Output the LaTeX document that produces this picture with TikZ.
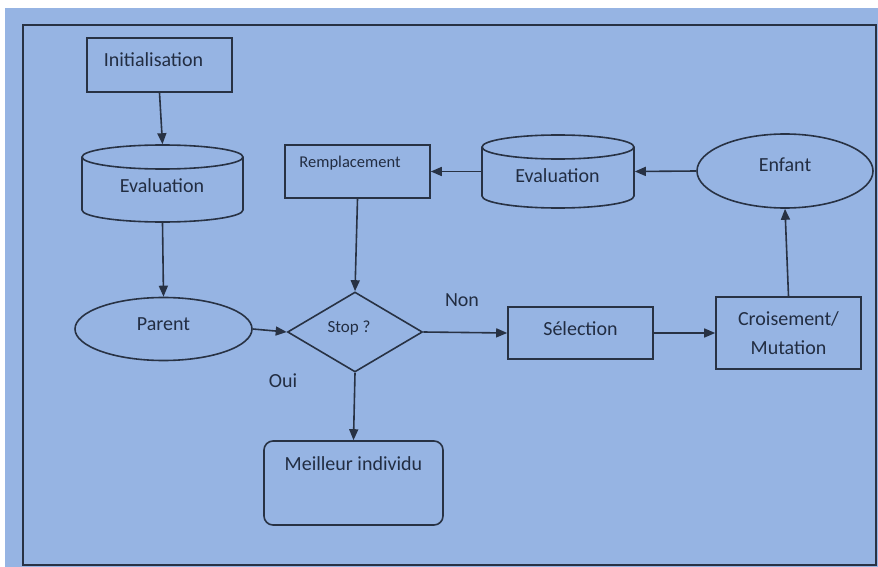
\documentclass[tikz,border=0pt]{standalone}
\usepackage{fontspec}
\setmainfont{Carlito}
\usetikzlibrary{arrows.meta,shapes.geometric}
\definecolor{sheet}{HTML}{96B4E3}
\definecolor{ink}{HTML}{283244}
\definecolor{txt}{HTML}{222D42}
\begin{document}
\begin{tikzpicture}[x=1pt,y=-1pt,line width=1.6pt,
  box/.style={draw=ink,rectangle,inner sep=0pt},
  oval/.style={draw=ink,ellipse,inner sep=0pt},
  rhomb/.style={draw=ink,diamond,inner sep=0pt},
  drum/.style={rectangle,inner sep=0pt},
  lbl/.style={text=txt,font=\fontsize{20}{24}\selectfont,inner sep=0pt},
  small/.style={lbl,font=\fontsize{16.5}{20}\selectfont},
  arr/.style={draw=ink,-{Triangle[length=11pt,width=9pt]}}]
  % page and frame
  \useasboundingbox (0,0) rectangle (878,567);
  \fill[white] (0,0) rectangle (878,567);
  \fill[sheet] (5,8) rectangle (878,567);
  \draw[ink,line width=1.4pt] (23,25) rectangle (876,565);

  % start
  \node[box,minimum width=145pt,minimum height=54pt,
        label={[lbl,xshift=-6pt,yshift=5pt]center:Initialisation}] (init) at (159.5,65) {};

  % first evaluation (cylinder)
  \node[drum,minimum width=161pt,minimum height=77pt] (ev1) at (162.5,183.5) {};
  \draw[ink] (82,157) -- (82,210) arc[start angle=180,end angle=360,x radius=80.5pt,y radius=12pt] -- (243,157);
  \draw[ink] (162.5,157) ellipse[x radius=80.5pt,y radius=12pt];
  \node[lbl] (ev1t) at (162,186) {Evaluation};

  % parent population
  \node[oval,minimum width=177pt,minimum height=63pt,
        label={[lbl,yshift=5pt]center:Parent}] (par) at (163.5,329) {};

  % stop test
  \node[rhomb,minimum width=135pt,minimum height=80pt,
        label={[lbl,font=\fontsize{17}{20}\selectfont,xshift=-6pt,yshift=4pt]center:Stop ?}] (stop) at (355,332) {};

  % replacement
  \node[box,minimum width=145pt,minimum height=53pt,
        label={[small,xshift=-7.5pt,yshift=8.5pt]center:Remplacement}] (rem) at (357.5,171.5) {};

  % second evaluation (cylinder)
  \node[drum,minimum width=152pt,minimum height=73pt] (ev2) at (558,171.5) {};
  \draw[ink] (482,147) -- (482,196) arc[start angle=180,end angle=360,x radius=76pt,y radius=12pt] -- (634,147);
  \draw[ink] (558,147) ellipse[x radius=76pt,y radius=12pt];
  \node[lbl] (ev2t) at (557.5,176) {Evaluation};

  % offspring
  \node[oval,minimum width=176pt,minimum height=74pt,
        label={[lbl,yshift=6pt]center:Enfant}] (enf) at (785,171) {};

  % selection and variation
  \node[box,minimum width=145pt,minimum height=52pt,
        label={[lbl,yshift=4pt]center:Sélection}] (sel) at (580.5,333) {};
  \node[box,minimum width=145pt,minimum height=72pt,align=center,
        text=txt,font=\fontsize{20}{29}\selectfont] (cm) at (788.5,333) {Croisement/\\Mutation};

  % result
  \node[box,rounded corners=9pt,minimum width=179pt,minimum height=84pt,
        label={[lbl,yshift=19pt]center:Meilleur individu}] (best) at (353.5,483) {};

  % branch labels
  \node[lbl] (non) at (462,300) {Non};
  \node[lbl] (oui) at (283,381) {Oui};

  % connectors
  \draw[arr] (init.south) -- (ev1.north);
  \draw[arr] (ev1.south) -- (par.north);
  \draw[arr] (par.east) -- (stop.west);
  \draw[arr] (rem.south) -- (stop.north);
  \draw[arr] (ev2.west) -- (rem.east);
  \draw[arr] (enf.west) -- (ev2.east);
  \draw[arr] (cm.north) -- (enf.south);
  \draw[arr] (stop.east) -- (sel.west);
  \draw[arr] (sel.east) -- (cm.west);
  \draw[arr] (stop.south) -- (best.north);
\end{tikzpicture}
\end{document}
